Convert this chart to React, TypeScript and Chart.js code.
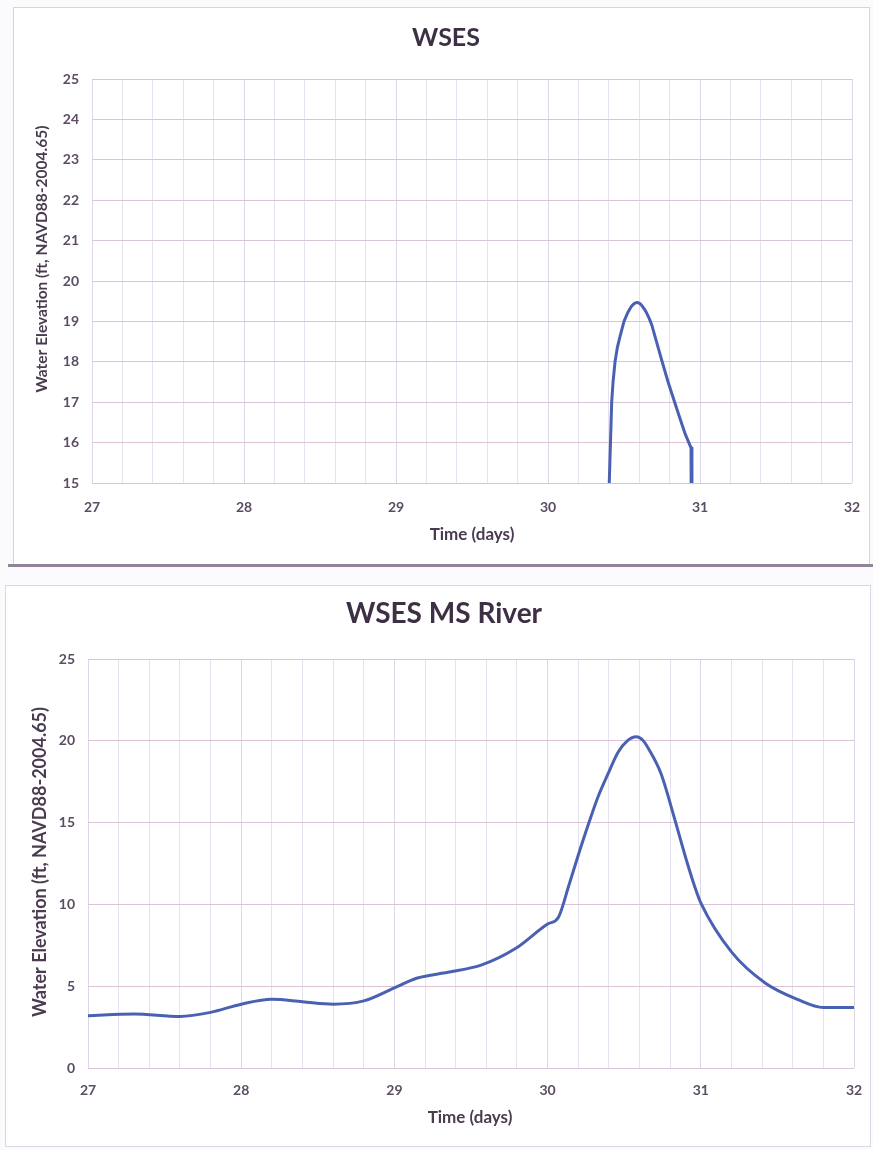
import React, { useEffect, useRef } from 'react';
import { Chart, registerables } from 'chart.js';

Chart.register(...registerables);

// ---- Data ----
const WSES_TIME = [30.403, 30.403, 30.411, 30.419, 30.428, 30.441, 30.456, 30.474, 30.5, 30.525, 30.55, 30.57, 30.588, 30.605, 30.62, 30.635, 30.65, 30.665, 30.682, 30.715, 30.748, 30.79, 30.836, 30.87, 30.901, 30.941, 30.947];
const WSES_ELEV = [8, 15, 16, 17, 17.5, 18.0, 18.35, 18.63, 19.0, 19.22, 19.38, 19.45, 19.47, 19.44, 19.38, 19.3, 19.2, 19.08, 18.92, 18.48, 18.04, 17.5, 16.97, 16.58, 16.23, 15.87, 8];

const RIVER_TIME = [27.0, 27.3, 27.6, 27.8, 28.0, 28.2, 28.4, 28.6, 28.8, 29.0, 29.15, 29.35, 29.57, 29.79, 30.0, 30.07, 30.14, 30.2, 30.27, 30.33, 30.4, 30.46, 30.52, 30.58, 30.62, 30.66, 30.74, 30.83, 30.9, 30.96, 31.0, 31.2, 31.42, 31.63, 31.8, 32.0];
const RIVER_ELEV = [3.2, 3.3, 3.15, 3.4, 3.9, 4.2, 4.05, 3.9, 4.1, 4.9, 5.5, 5.85, 6.3, 7.3, 8.8, 9.2, 11.2, 13.0, 15.0, 16.6, 18.1, 19.3, 20.0, 20.25, 20.05, 19.5, 18.0, 15.2, 12.9, 11.1, 10.1, 7.1, 5.2, 4.2, 3.7, 3.7];

const X_MIN = 27;
const X_MAX = 32;
const X_STEP = 0.2;
const TOP_Y_MIN = 15;
const TOP_Y_MAX = 25;
const TOP_Y_STEP = 1;
const BOT_Y_MIN = 0;
const BOT_Y_MAX = 25;
const BOT_Y_STEP = 5;

const TITLE_TOP = 'WSES';
const TITLE_BOTTOM = 'WSES MS River';
const Y_TITLE = 'Water Elevation (ft, NAVD88-2004.65)';
const X_TITLE = 'Time (days)';

// ---- Styles ----
const LINE_COLOR = '#4a61b3';
const H_GRID = '#dcc4d8';
const V_GRID = '#e6e1ef';
const V_GRID_MAJOR = '#ddd6e8';
const TICK_COLOR = '#5b4d63';
const TITLE_COLOR = '#3d2f44';
const AXIS_TITLE_COLOR = '#4a3b50';
const FONT = 'Lato, "Open Sans", sans-serif';

const textPlugin = {
  id: 'boxTexts',
  afterDraw(chart: any, _args: any, opts: any) {
    const ctx = chart.ctx;
    for (const t of (opts && opts.items) || []) {
      ctx.save();
      ctx.font = t.font;
      ctx.fillStyle = t.color;
      ctx.textAlign = 'center';
      ctx.textBaseline = 'middle';
      ctx.translate(t.x, t.y);
      if (t.rotate) ctx.rotate(-Math.PI / 2);
      ctx.fillText(t.text, 0, 0);
      ctx.restore();
    }
  },
};

function isInt(v: number) {
  return Math.abs(v - Math.round(v)) < 1e-6;
}

type Cfg = {
  times: number[];
  elevs: number[];
  smooth: boolean;
  yMin: number;
  yMax: number;
  yStep: number;
  width: number;
  height: number;
  pad: { top: number; right: number };
  yWidth: number;
  xHeight: number;
  yTickPad: number;
  xTickGap: number;
  texts: any[];
};

function ChartBox({ cfg }: { cfg: Cfg }) {
  const ref = useRef<HTMLCanvasElement | null>(null);
  useEffect(() => {
    if (!ref.current) return;
    const data = cfg.times.map((x, i) => ({ x, y: cfg.elevs[i] }));
    const chart = new Chart(ref.current, {
      type: 'line',
      data: {
        datasets: [
          {
            data,
            borderColor: LINE_COLOR,
            borderWidth: 3,
            pointRadius: 0,
            fill: false,
            tension: 0,
            cubicInterpolationMode: cfg.smooth ? 'monotone' : 'default',
            borderJoinStyle: 'round',
          },
        ],
      },
      options: {
        responsive: false,
        animation: false,
        devicePixelRatio: 1,
        layout: { padding: { top: cfg.pad.top, right: cfg.pad.right, left: 0, bottom: 0 } },
        plugins: {
          legend: { display: false },
          title: { display: false },
          tooltip: { enabled: false },
          boxTexts: { items: cfg.texts },
        } as any,
        scales: {
          x: {
            type: 'linear',
            min: X_MIN,
            max: X_MAX,
            border: { display: false },
            grid: {
              drawTicks: true,
              tickLength: cfg.xTickGap,
              tickColor: 'rgba(0,0,0,0)',
              lineWidth: 1,
              color: (c: any) => (c.tick && isInt(c.tick.value) ? V_GRID_MAJOR : V_GRID),
            },
            ticks: {
              stepSize: X_STEP,
              autoSkip: false,
              maxRotation: 0,
              padding: 0,
              color: TICK_COLOR,
              font: { family: FONT, size: 14, weight: 'bold' },
              callback: (v: any) => (isInt(Number(v)) ? String(Math.round(Number(v))) : ''),
            },
            afterFit: (s: any) => {
              s.height = cfg.xHeight;
            },
          },
          y: {
            type: 'linear',
            min: cfg.yMin,
            max: cfg.yMax,
            border: { display: false },
            grid: { drawTicks: false, lineWidth: 1, color: H_GRID },
            ticks: {
              stepSize: cfg.yStep,
              padding: cfg.yTickPad,
              color: TICK_COLOR,
              font: { family: FONT, size: 14, weight: 'bold' },
            },
            afterFit: (s: any) => {
              s.width = cfg.yWidth;
            },
          },
        },
      } as any,
      plugins: [textPlugin as any],
    });
    return () => chart.destroy();
  }, [cfg]);
  return <canvas ref={ref} width={cfg.width} height={cfg.height} style={{ display: 'block', width: cfg.width, height: cfg.height }} />;
}

const TOP_CFG: Cfg = {
  times: WSES_TIME,
  elevs: WSES_ELEV,
  smooth: false,
  yMin: TOP_Y_MIN,
  yMax: TOP_Y_MAX,
  yStep: TOP_Y_STEP,
  width: 855,
  height: 556,
  pad: { top: 71, right: 17 },
  yWidth: 78,
  xHeight: 81,
  yTickPad: 13,
  xTickGap: 16,
  texts: [
    { text: TITLE_TOP, x: 432, y: 30, font: `bold 25px ${FONT}`, color: TITLE_COLOR },
    { text: Y_TITLE, x: 28, y: 251, font: `bold 15.5px ${FONT}`, color: AXIS_TITLE_COLOR, rotate: true },
    { text: X_TITLE, x: 458, y: 527, font: `bold 17px ${FONT}`, color: AXIS_TITLE_COLOR },
  ],
};

const BOT_CFG: Cfg = {
  times: RIVER_TIME,
  elevs: RIVER_ELEV,
  smooth: true,
  yMin: BOT_Y_MIN,
  yMax: BOT_Y_MAX,
  yStep: BOT_Y_STEP,
  width: 864,
  height: 560,
  pad: { top: 73, right: 16 },
  yWidth: 82,
  xHeight: 78,
  yTickPad: 13,
  xTickGap: 14,
  texts: [
    { text: TITLE_BOTTOM, x: 438, y: 28, font: `bold 28px ${FONT}`, color: TITLE_COLOR },
    { text: Y_TITLE, x: 34, y: 276, font: `bold 18px ${FONT}`, color: AXIS_TITLE_COLOR, rotate: true },
    { text: X_TITLE, x: 464, y: 532, font: `bold 17px ${FONT}`, color: AXIS_TITLE_COLOR },
  ],
};

export default function App() {
  return (
    <div style={{ position: 'absolute', left: 0, top: 0, width: 873, height: 1150, background: '#fbfafc', overflow: 'hidden' }}>
      <div
        style={{
          position: 'absolute',
          left: 13,
          top: 7,
          width: 857,
          height: 558,
          boxSizing: 'border-box',
          border: '1px solid #d9d2df',
          background: '#ffffff',
        }}
      >
        <ChartBox cfg={TOP_CFG} />
      </div>
      <div style={{ position: 'absolute', left: 8, top: 564, width: 865, height: 3, background: '#8f8597' }} />
      <div
        style={{
          position: 'absolute',
          left: 5,
          top: 585,
          width: 866,
          height: 562,
          boxSizing: 'border-box',
          border: '1px solid #dcd5e2',
          background: '#ffffff',
        }}
      >
        <ChartBox cfg={BOT_CFG} />
      </div>
    </div>
  );
}
